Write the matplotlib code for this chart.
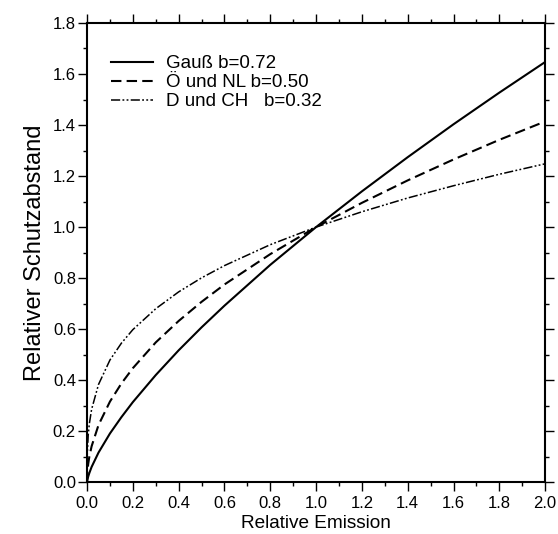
import matplotlib
matplotlib.use("Agg")
import matplotlib.pyplot as plt
from matplotlib.ticker import MultipleLocator

plt.rcParams['font.family'] = ['Liberation Sans', 'DejaVu Sans']

# values
emission = [0.0, 0.001, 0.005, 0.01, 0.02, 0.05, 0.1, 0.15, 0.2, 0.3, 0.4, 0.5,
            0.6, 0.8, 1.0, 1.2, 1.4, 1.6, 1.8, 2.0]
gauss = [0.0, 0.007, 0.022, 0.036, 0.060, 0.116, 0.191, 0.255, 0.314, 0.420,
         0.517, 0.607, 0.692, 0.852, 1.0, 1.140, 1.274, 1.403, 1.527, 1.647]
oe_nl = [0.0, 0.032, 0.071, 0.100, 0.141, 0.224, 0.316, 0.387, 0.447, 0.548,
         0.632, 0.707, 0.775, 0.894, 1.0, 1.095, 1.183, 1.265, 1.342, 1.414]
d_ch = [0.0, 0.110, 0.184, 0.229, 0.286, 0.383, 0.479, 0.545, 0.598, 0.680,
        0.746, 0.801, 0.849, 0.931, 1.0, 1.060, 1.114, 1.162, 1.207, 1.248]
labels = ['Gauß b=0.72', 'Ö und NL b=0.50', 'D und CH   b=0.32']

fig = plt.figure(figsize=(5.58, 5.34), dpi=100)
ax = fig.add_axes([0.156, 0.097, 0.821, 0.860])

ax.plot(emission, gauss, color='black', lw=1.5, label=labels[0])
ax.plot(emission, oe_nl, color='black', lw=1.5, dashes=(5, 2.5), label=labels[1])
ax.plot(emission, d_ch, color='black', lw=1.1,
        dashes=(6, 1.5, 1.2, 1.5, 1.2, 1.5), label=labels[2])

ax.set_xlim(0, 2.0)
ax.set_ylim(0, 1.8)
ax.xaxis.set_major_locator(MultipleLocator(0.2))
ax.xaxis.set_minor_locator(MultipleLocator(0.1))
ax.yaxis.set_major_locator(MultipleLocator(0.2))
ax.yaxis.set_minor_locator(MultipleLocator(0.1))
ax.xaxis.set_major_formatter(plt.FormatStrFormatter('%.1f'))
ax.yaxis.set_major_formatter(plt.FormatStrFormatter('%.1f'))

ax.tick_params(which='both', direction='out', top=True, right=True,
               labelsize=12, width=1.0)
ax.tick_params(which='major', length=6.5)
ax.tick_params(which='minor', length=3.2)
ax.tick_params(axis='x', which='major', pad=3.5)
ax.tick_params(axis='y', which='major', pad=1.5)
for s in ax.spines.values():
    s.set_linewidth(1.5)

ax.set_xlabel('Relative Emission', fontsize=13.7, labelpad=3)
ax.set_ylabel('Relativer Schutzabstand', fontsize=17, labelpad=5)

ax.legend(loc='upper left', frameon=False, fontsize=13.5, handlelength=2.25,
          handletextpad=0.7, labelspacing=0.1, borderpad=0,
          bbox_to_anchor=(0.052, 0.93), borderaxespad=0)

fig.savefig('out.png', dpi=100)
